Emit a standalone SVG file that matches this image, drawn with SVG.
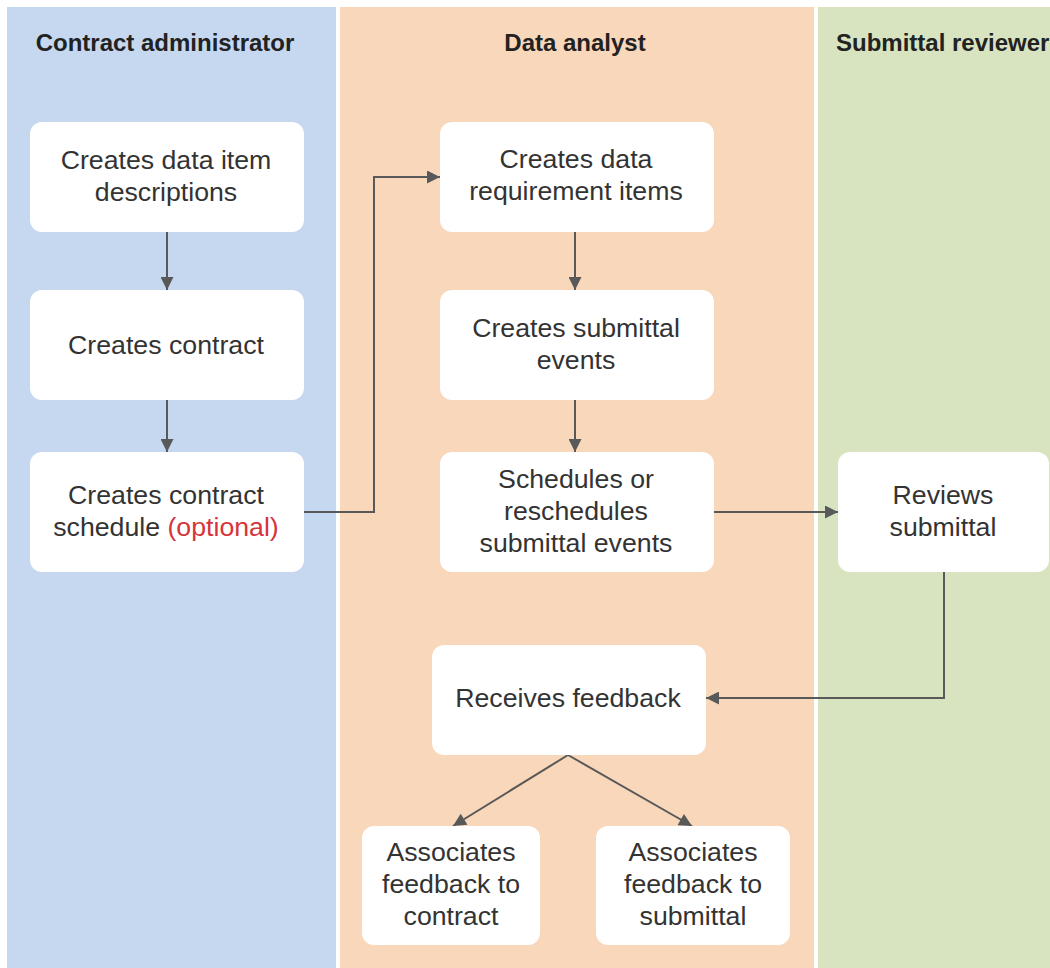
<svg xmlns="http://www.w3.org/2000/svg" width="1050" height="968" viewBox="0 0 1050 968">
<style>
.lane-h{font-family:"Liberation Sans",Arial,sans-serif;font-size:24px;font-weight:bold;fill:#222;}
.box{fill:#fff;}
.t{font-family:"Liberation Sans",Arial,sans-serif;font-size:26.7px;fill:#333;text-anchor:middle;}
.opt{fill:#d6343a;}
.conn{fill:none;stroke:#595959;stroke-width:2;marker-end:url(#ah);}
</style>
<defs>
<marker id="ah" viewBox="0 0 10 10" refX="10" refY="5" markerWidth="8" markerHeight="6.5" markerUnits="strokeWidth" orient="auto">
<path d="M0,0 L10,5 L0,10 z" fill="#595959"/>
</marker>
</defs>
<rect width="1050" height="968" fill="#fff"/>
<g id="lanes">
<rect x="7" y="7" width="329" height="961" fill="#c6d8ef"/>
<rect x="340" y="7" width="474" height="961" fill="#f9d7bb"/>
<rect x="818" y="7" width="232" height="961" fill="#d8e4c0"/>
<text class="lane-h" x="165" y="51" text-anchor="middle">Contract administrator</text>
<text class="lane-h" x="575" y="51" text-anchor="middle">Data analyst</text>
<text class="lane-h" x="836" y="51">Submittal reviewer</text>
</g>
<g id="connectors">
<line class="conn" x1="167" y1="232" x2="167" y2="290"/>
<line class="conn" x1="167" y1="400" x2="167" y2="452"/>
<polyline class="conn" points="304,512 374,512 374,177 440,177"/>
<line class="conn" x1="575" y1="232" x2="575" y2="290"/>
<line class="conn" x1="575" y1="400" x2="575" y2="452"/>
<line class="conn" x1="714" y1="512" x2="838" y2="512"/>
<polyline class="conn" points="944,572 944,698 706,698"/>
<line class="conn" x1="568" y1="755" x2="453" y2="826"/>
<line class="conn" x1="568" y1="755" x2="692" y2="826"/>
</g>
<g id="n-ca1">
<rect class="box" x="30" y="122" width="274" height="110" rx="12"/>
<text class="t" x="166" y="169">Creates data item</text>
<text class="t" x="166" y="201">descriptions</text>
</g>
<g id="n-ca2">
<rect class="box" x="30" y="290" width="274" height="110" rx="12"/>
<text class="t" x="166" y="354">Creates contract</text>
</g>
<g id="n-ca3">
<rect class="box" x="30" y="452" width="274" height="120" rx="12"/>
<text class="t" x="166" y="504">Creates contract</text>
<text class="t" x="166" y="536">schedule <tspan class="opt">(optional)</tspan></text>
</g>
<g id="n-da1">
<rect class="box" x="440" y="122" width="274" height="110" rx="12"/>
<text class="t" x="576" y="168">Creates data</text>
<text class="t" x="576" y="200">requirement items</text>
</g>
<g id="n-da2">
<rect class="box" x="440" y="290" width="274" height="110" rx="12"/>
<text class="t" x="576" y="337">Creates submittal</text>
<text class="t" x="576" y="369">events</text>
</g>
<g id="n-da3">
<rect class="box" x="440" y="452" width="274" height="120" rx="12"/>
<text class="t" x="576" y="488">Schedules or</text>
<text class="t" x="576" y="520">reschedules</text>
<text class="t" x="576" y="552">submittal events</text>
</g>
<g id="n-sr1">
<rect class="box" x="838" y="452" width="211" height="120" rx="12"/>
<text class="t" x="943" y="504">Reviews</text>
<text class="t" x="943" y="536">submittal</text>
</g>
<g id="n-da4">
<rect class="box" x="432" y="645" width="274" height="110" rx="12"/>
<text class="t" x="568" y="707">Receives feedback</text>
</g>
<g id="n-da5">
<rect class="box" x="362" y="826" width="178" height="119" rx="12"/>
<text class="t" x="451" y="861">Associates</text>
<text class="t" x="451" y="893">feedback to</text>
<text class="t" x="451" y="925">contract</text>
</g>
<g id="n-da6">
<rect class="box" x="596" y="826" width="194" height="119" rx="12"/>
<text class="t" x="693" y="861">Associates</text>
<text class="t" x="693" y="893">feedback to</text>
<text class="t" x="693" y="925">submittal</text>
</g>
</svg>
